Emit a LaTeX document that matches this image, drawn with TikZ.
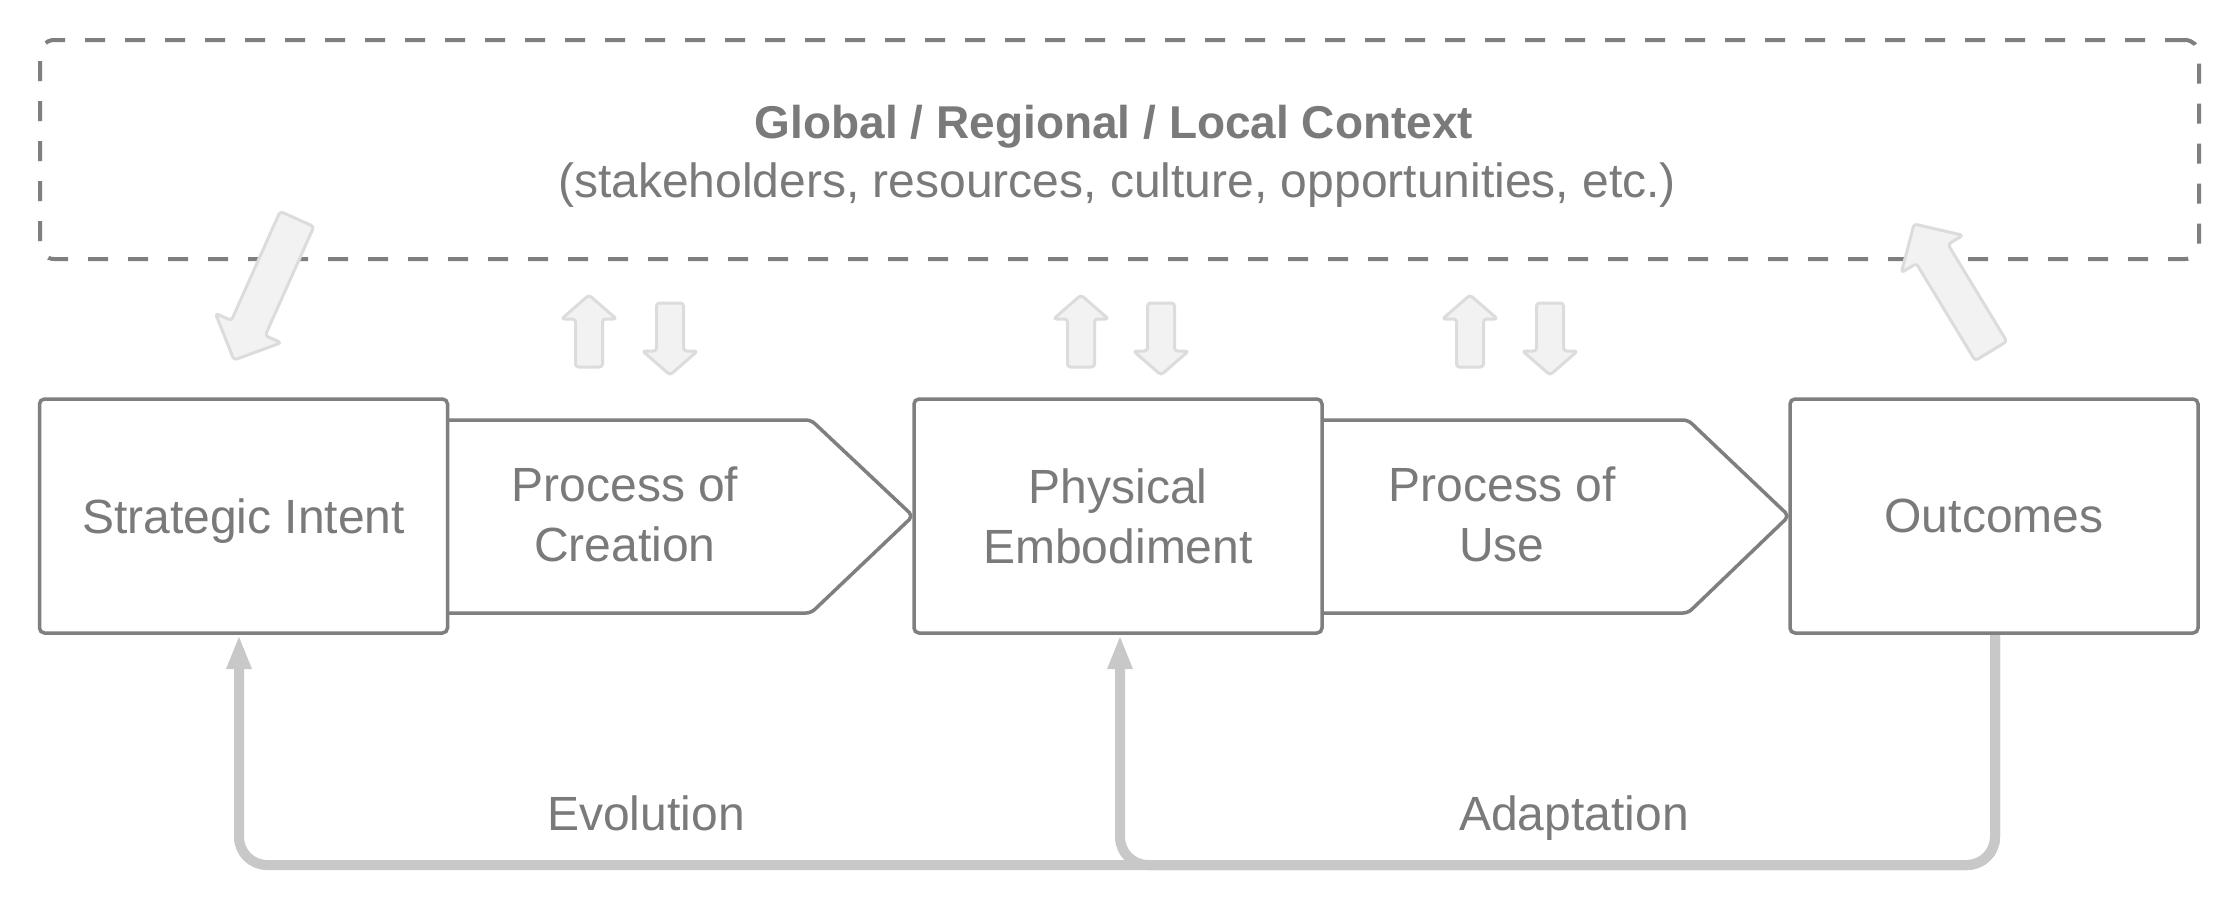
\documentclass[tikz,border=0pt]{standalone}
\usepackage{fontspec}
\setmainfont{Liberation Sans}
\usetikzlibrary{calc,arrows.meta}
\definecolor{boxgray}{HTML}{7F7F7F}
\definecolor{txtgray}{HTML}{7A7A7A}
\definecolor{loopgray}{HTML}{C8C8C8}
\definecolor{arrfill}{HTML}{F2F2F2}
\definecolor{arrline}{HTML}{DCDCDC}
\newcommand\blockarrow[6]{%
  \coordinate (#1t) at (#2);
  \coordinate (#1p) at (#3);
  \coordinate (#1h) at ($(#1p)!#6!(#1t)$);
  \draw[blockarr] ($(#1t)!#4!90:(#1p)$) -- ($(#1h)!#4!90:(#1p)$) -- ($(#1h)!#5!90:(#1p)$)
     -- (#1p) -- ($(#1h)!#5!-90:(#1p)$) -- ($(#1h)!#4!-90:(#1p)$) -- ($(#1t)!#4!-90:(#1p)$) -- cycle;
}
\begin{document}
\begin{tikzpicture}[x=1pt,y=-1pt,
  stagebox/.style={draw=boxgray, line width=3.5pt, rounded corners=5pt, minimum width=408pt,
     minimum height=234pt, inner sep=0pt, fill=white},
  lbl/.style={text=txtgray, font=\fontsize{48}{60}\selectfont, align=center},
  chev/.style={draw=boxgray, line width=3.5pt, rounded corners=5pt, line join=round},
  ctxbox/.style={draw=boxgray, line width=4pt, dash pattern=on 20pt off 20pt, rounded corners=14pt,
     minimum width=2159pt, minimum height=219pt, inner sep=0pt},
  loopline/.style={draw=loopgray, line width=10pt, rounded corners=28pt},
  looptip/.style={-{Triangle[length=34pt,width=23pt]}},
  blockarr/.style={draw=arrline, fill=arrfill, line width=3pt, line join=round, rounded corners=3pt},
]
\useasboundingbox[fill=white] (0,0) rectangle (2240,906);

% context frame
\node[ctxbox] (ctx) at (1119.5,149.5) {};
\node[text=txtgray, font=\bfseries\fontsize{46}{56}\selectfont, anchor=base] (title) at (1114,138)
  {Global / Regional / Local Context};
\node[text=txtgray, font=\fontsize{48}{58}\selectfont, anchor=base] (sub) at (1117,197)
  {(stakeholders, resources, culture, opportunities, etc.)};

% feedback loops
\draw[loopline, looptip] (1995,0 |- 0,633) -- (1995,865) -- (239,865) -- (239,0 |- 0,635);
\draw[loopline, looptip] (1995,0 |- 0,633) -- (1995,865) -- (1120,865) -- (1120,0 |- 0,635);

% chevrons
\draw[chev] (448,420) -- (811,420) -- (913,516) -- (811,613) -- (448,613);
\draw[chev] (1322,420) -- (1688,420) -- (1789,516) -- (1688,613) -- (1322,613);

% stage boxes
\node[stagebox, lbl, text depth=0pt] (S) at (243.5,516) {Strategic Intent};
\node[stagebox, lbl] (P) at (1118,516) {Physical\\Embodiment};
\node[stagebox, lbl] (O) at (1994,516) {Outcomes};

\node[lbl] (pc) at (625,514.5) {Process of\\Creation};
\node[lbl] (pu) at (1502,514.5) {Process of\\Use};

\node[lbl, anchor=base] (evo) at (646,830) {Evolution};
\node[lbl, anchor=base] (ada) at (1574,830) {Adaptation};

% block arrows
\blockarrow{al}{297,219}{234,360}{18.5pt}{36pt}{35pt}
\blockarrow{ar}{1991,351}{1914,224}{18.5pt}{36pt}{35pt}
\blockarrow{ua}{589,367}{589,295}{13.5pt}{27.5pt}{24pt}
\blockarrow{da}{670,303}{670,375}{13.5pt}{27.5pt}{24pt}
\blockarrow{ub}{1081,367}{1081,295}{13.5pt}{27.5pt}{24pt}
\blockarrow{db}{1161,303}{1161,375}{13.5pt}{27.5pt}{24pt}
\blockarrow{uc}{1470,367}{1470,295}{13.5pt}{27.5pt}{24pt}
\blockarrow{dc}{1550,303}{1550,375}{13.5pt}{27.5pt}{24pt}
\end{tikzpicture}
\end{document}
